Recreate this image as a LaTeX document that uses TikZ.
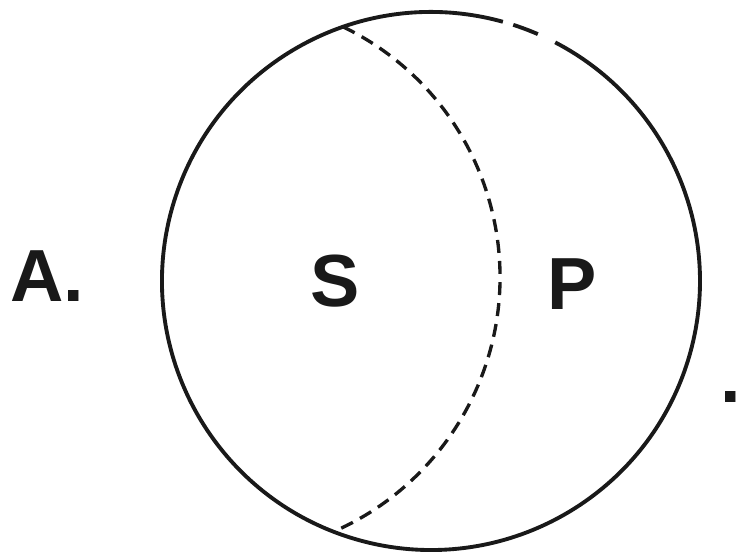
\documentclass[tikz,border=0pt]{standalone}
\usepackage{fontspec}
\setmainfont{Liberation Sans}
\usepackage{xcolor}
\usepackage{tikz}
\usetikzlibrary{calc}
\definecolor{Ck}{RGB}{25,25,25}

\begin{document}
\begin{tikzpicture}[x=0.01cm,y=0.01cm,
    lbl/.style={inner sep=0pt,anchor=base,Ck,font=\bfseries\fontsize{21}{24}\selectfont}]
    \useasboundingbox (0,0) rectangle (736,559);
    \coordinate (O) at (431,278);
    % outer circle, with the two small breaks at the top right
    \draw[line width=1.1pt,Ck] ($(O)+(74.5:269)$) arc[start angle=74.5,end angle=422.5,radius=269];
    \draw[line width=1.1pt,Ck] ($(O)+(72.2:269)$) arc[start angle=72.2,end angle=66.6,radius=269];
    \coordinate (top) at ($(O)+(109.1:269)$);
    \coordinate (bot) at ($(O)+(248.5:269)$);
    \draw[line width=0.95pt,Ck,dash pattern=on 3.7pt off 2.3pt]
      (top) arc[start angle=64.2,end angle=-65.9,radius=278];
    \node[lbl] (A) at (47,257) {A.};
    \node[lbl] (S) at (335,252) {S};
    \node[lbl] (P) at (572,249) {P};
    \node[lbl] (dot) at (731,156) {.};
  \end{tikzpicture}
\end{document}
